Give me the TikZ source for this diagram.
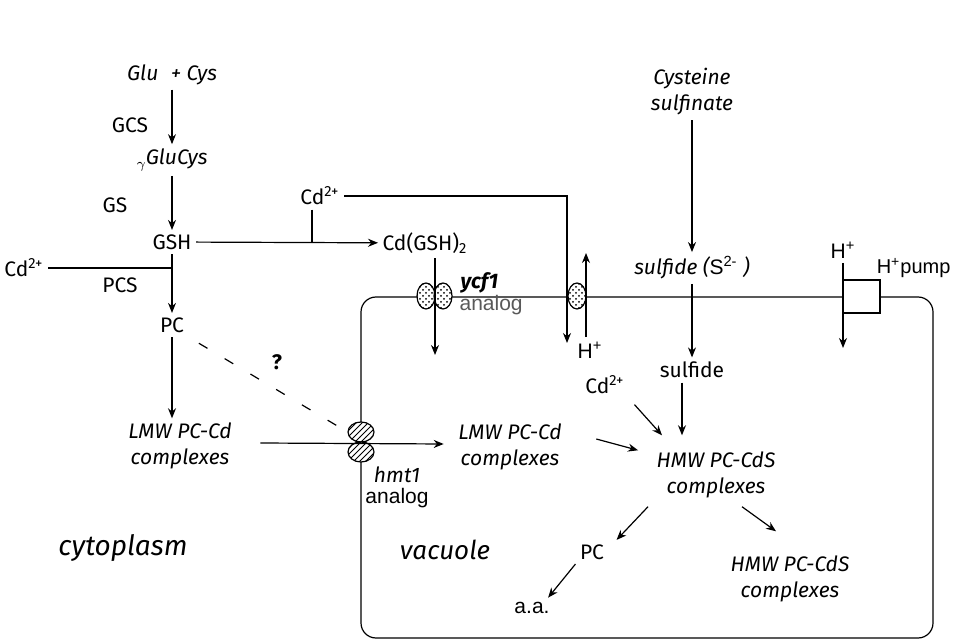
\documentclass[tikz,border=0pt]{standalone}
\usepackage{fontspec}
\setmainfont{Fira Sans}
\newfontfamily\arialfont{Liberation Sans}
\usetikzlibrary{arrows.meta,patterns,shapes.geometric,positioning}

\begin{document}
\begin{tikzpicture}[x=0.5pt, y=-0.5pt, line width=0.6pt, >={Stealth[length=5pt,width=4pt]},
    txt/.style={font=\fontsize{10.5}{13}\selectfont, inner sep=2pt, align=center},
    itx/.style={txt, font=\fontsize{10.5}{13}\selectfont\itshape},
    arl/.style={txt, font=\arialfont\fontsize{10.5}{13}\selectfont},
    big/.style={font=\fontsize{14}{17}\selectfont\itshape},
    dotted pore/.style={ellipse, draw, inner sep=0pt, minimum width=9pt, minimum height=13pt,
                        preaction={fill=white}, pattern=crosshatch dots},
    hatched pore/.style={ellipse, draw, inner sep=0pt, minimum width=13pt, minimum height=10pt,
                         preaction={fill=white}, pattern=north east lines}]

  \useasboundingbox (0,0) rectangle (953,641);

  % citoplasma
  \node[itx] (glucys) at (172,75)  {Glu\,\, + Cys};
  \node[txt] (gcs)    at (130,125) {GCS};
  \node[itx] (gglu)   at (172,160) {\raisebox{-2pt}{\scriptsize$\gamma$}GluCys};
  \node[txt] (gs)     at (115,205) {GS};
  \node[txt] (gsh)    at (172,242) {GSH};
  \node[txt] (cdtop)  at (320,196) {Cd\textsuperscript{2+}};
  \node[txt] (cdgsh)  at (425,243) {Cd(GSH)\textsubscript{2}};
  \node[txt] (cdleft) at (24,268)  {Cd\textsuperscript{2+}};
  \node[txt] (pcs)    at (120,285) {PCS};
  \node[txt] (pc1)    at (172,325) {PC};
  \node[itx] (lmw1)   at (180,446) {LMW PC-Cd\\complexes};
  \node[txt, font=\fontsize{10.5}{13}\selectfont\bfseries] (q) at (277,362) {?};
  \node[big] (cyto)   at (123,548) {cytoplasm};

  % vacuolo
  \node[itx] (cyssulf) at (692,92)  {Cysteine\\sulfinate};
  \node[itx] (sulf1)   at (692,268) {sulfide ({\arialfont\upshape S\textsuperscript{2-}} )};
  \node[txt] (sulf2)   at (692,370) {sulfide};
  \node[txt] (cdvac)   at (605,385) {Cd\textsuperscript{2+}};
  \node[itx] (lmw2)    at (510,447) {LMW PC-Cd\\complexes};
  \node[itx] (hmw1)    at (716,475) {HMW PC-CdS\\complexes};
  \node[txt] (pc2)     at (592,552) {PC};
  \node[arl] (aa)      at (532,608) {a.a.};
  \node[itx] (hmw2)    at (790,579) {HMW PC-CdS\\complexes};
  \node[big, font=\fontsize{13}{16}\selectfont\itshape] (vac) at (445,550) {vacuole};

  % membrana + pompa
  \draw[rounded corners=7.5pt] (880,297) -| (933,638) -| (361,297) -- (843,297);
  \draw (843,280) -- (880,280) -- (880,313) -- (843,313);
  \node[arl] (hp2)  at (843,250) {H\textsuperscript{+}};
  \node[arl, font=\arialfont\fontsize{10}{12}\selectfont, anchor=east, inner sep=1pt] (pump) at (953,268) {H\textsuperscript{+}pump};

  % trasportatori
  \node[dotted pore]  (ycfA)  at (426,296) {};
  \node[dotted pore]  (ycfB)  at (443,296) {};
  \node[dotted pore]  (vpore) at (577,296) {};
  \node[hatched pore] (hmtA)  at (361,432) {};
  \node[hatched pore] (hmtB)  at (361,452) {};
  \node[itx, font=\fontsize{10.5}{13}\selectfont\bfseries\itshape, anchor=west] (ycf) at (456,283) {ycf1};
  \node[arl, text=black!65, anchor=west] (ycfan) at (455,305) {analog};
  \node[itx] (hmt)   at (397,475) {hmt1};
  \node[arl] (hmtan) at (397,498) {analog};
  \node[arl] (hp1)   at (590,350) {H\textsuperscript{+}};

  \coordinate (j1)      at (312,242);
  \coordinate (inlet)   at (567,343);
  \coordinate (outlet)  at (586,253);
  \coordinate (ycfin)   at (435,355);
  \coordinate (pumpout) at (843,348);
  \path ([yshift=6pt]hmw1.north) coordinate (hmwtop);

  \path[->]
    (glucys) edge (gglu)
    (gglu)   edge (gsh)
    (gsh)    edge (pc1)
    (gsh)    edge (cdgsh)
    (cyssulf) edge (sulf1)
    (sulf1)  edge (sulf2);

  \draw (cdleft) -- (cdleft -| gsh);
  \draw (cdtop.south -| j1) -- (j1);
  \draw[->] (cdtop) -| (inlet);              % Cd entra nel vacuolo
  \draw[->] (hp1.north -| outlet) -- (outlet); % H esce
  \draw[->] (cdgsh.south -| ycfin) -- (ycfin);
  \draw[->] (hp2.south -| pumpout) -- (pumpout);
  \draw[->] (pc1) -- (pc1 |- lmw1.north);
  \draw[dash pattern=on 5pt off 10pt, shorten <=6pt] (pc1.south east) -- (hmtA.west);
  \draw[->] ([xshift=12pt,yshift=1.5pt]lmw1.east) -- ([xshift=-5pt,yshift=1.5pt]lmw2.west);

  \draw[->] ([xshift=-5pt]sulf2.south) -- ([xshift=-5pt]sulf2.south |- hmwtop);
  \draw[->, shorten <=4pt] (cdvac.south east) -- ([xshift=-27pt]hmwtop);
  \draw[->] ([xshift=15pt,yshift=4pt]lmw2.east) -- ([xshift=-7pt,yshift=-1.5pt]hmw1.north west);
  \draw[->] ([xshift=-34pt,yshift=-2pt]hmw1.south) -- ([xshift=4pt]pc2.north east);
  \draw[->] ([xshift=13pt,yshift=-2pt]hmw1.south) -- ([xshift=-7pt,yshift=10pt]hmw2.north);
  \draw[->] (pc2.south west) -- ([xshift=-3pt]aa.north east);

\end{tikzpicture}
\end{document}
